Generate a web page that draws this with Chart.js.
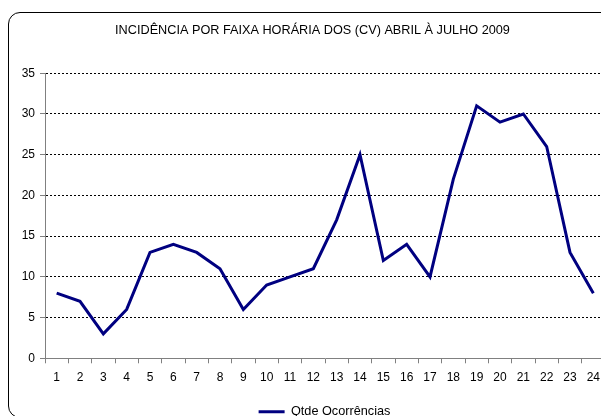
<!DOCTYPE html>
<html>
<head>
<meta charset="utf-8">
<script src="https://cdn.jsdelivr.net/npm/chart.js@4.4.0/dist/chart.umd.min.js"></script>
<style>
    html, body { margin: 0; padding: 0; background: #fff; overflow: hidden; }
    #wrap { position: relative; width: 601px; height: 416px; overflow: hidden; }
    #frame {
        position: absolute; left: 8px; top: 12px; width: 640px; height: 406px;
        border: 1px solid #000; border-radius: 12px; box-sizing: border-box;
    }
    #box { position: absolute; left: 0; top: 0; width: 610px; height: 416px; }
</style>
</head>
<body>
<div id="wrap">
    <div id="frame"></div>
    <div id="box"><canvas id="lineChart" width="610" height="416"></canvas></div>
</div>
<script>
// Données du graphique
const titre = 'INCIDÊNCIA POR FAIXA HORÁRIA DOS (CV) ABRIL À JULHO 2009';
const heures = ['1', '2', '3', '4', '5', '6', '7', '8', '9', '10', '11', '12',
                '13', '14', '15', '16', '17', '18', '19', '20', '21', '22', '23', '24'];
const ocorrencias = [8, 7, 3, 6, 13, 14, 13, 11, 6, 9, 10, 11,
                     17, 25, 12, 14, 10, 22, 31, 29, 30, 26, 13, 8];
const serieNom = 'Qtde Ocorrências';

const famille = 'Arial, "Liberation Sans", sans-serif';
const policeTicks = { family: famille, size: 12 };
const policeTexte = { family: famille, size: 12.7, weight: 'normal' };

// Décalage du titre et de la légende vers la droite (centrés sur le cadre)
const decalage = {
    id: 'decalage',
    afterLayout(chart) {
        chart.titleBlock.left += 10;
        chart.titleBlock.right += 10;
        chart.legend.left += 22;
        chart.legend.right += 22;
    }
};

const ctx = document.getElementById('lineChart').getContext('2d');
const lineChart = new Chart(ctx, {
    type: 'line',
    data: {
        labels: heures,
        datasets: [{
            label: serieNom,
            data: ocorrencias,
            borderColor: '#000080',
            backgroundColor: '#000080',
            borderWidth: 3,
            pointRadius: 0,
            tension: 0
        }]
    },
    options: {
        responsive: false,
        animation: false,
        layout: { padding: { left: 0, right: 5, top: 0, bottom: -12 } },
        plugins: {
            title: {
                display: true,
                text: titre,
                color: '#000',
                font: policeTexte,
                padding: { top: 23, bottom: 35 }
            },
            legend: {
                position: 'bottom',
                labels: {
                    color: '#000',
                    font: policeTexte,
                    usePointStyle: true,
                    pointStyle: 'line',
                    pointStyleWidth: 26,
                    padding: 0
                }
            },
            tooltip: { enabled: false }
        },
        scales: {
            x: {
                offset: true,
                afterFit: scale => { scale.height = 47; },
                grid: { offset: true, drawOnChartArea: false, drawTicks: true, tickLength: 5, color: '#808080' },
                border: { color: '#808080' },
                ticks: { color: '#000', font: policeTicks, padding: 7, maxRotation: 0, autoSkip: false }
            },
            y: {
                min: 0,
                max: 35,
                afterFit: scale => { scale.width = 45; },
                grid: {
                    color: c => c.tick && c.tick.value === 0 ? 'rgba(0,0,0,0)' : '#000',
                    tickLength: 5,
                    tickColor: '#808080',
                    tickBorderDash: [0, 0]
                },
                border: { color: '#808080', dash: [2, 2] },
                ticks: { stepSize: 5, color: '#000', font: policeTicks, padding: 5 }
            }
        }
    },
    plugins: [decalage]
});
</script>
</body>
</html>
